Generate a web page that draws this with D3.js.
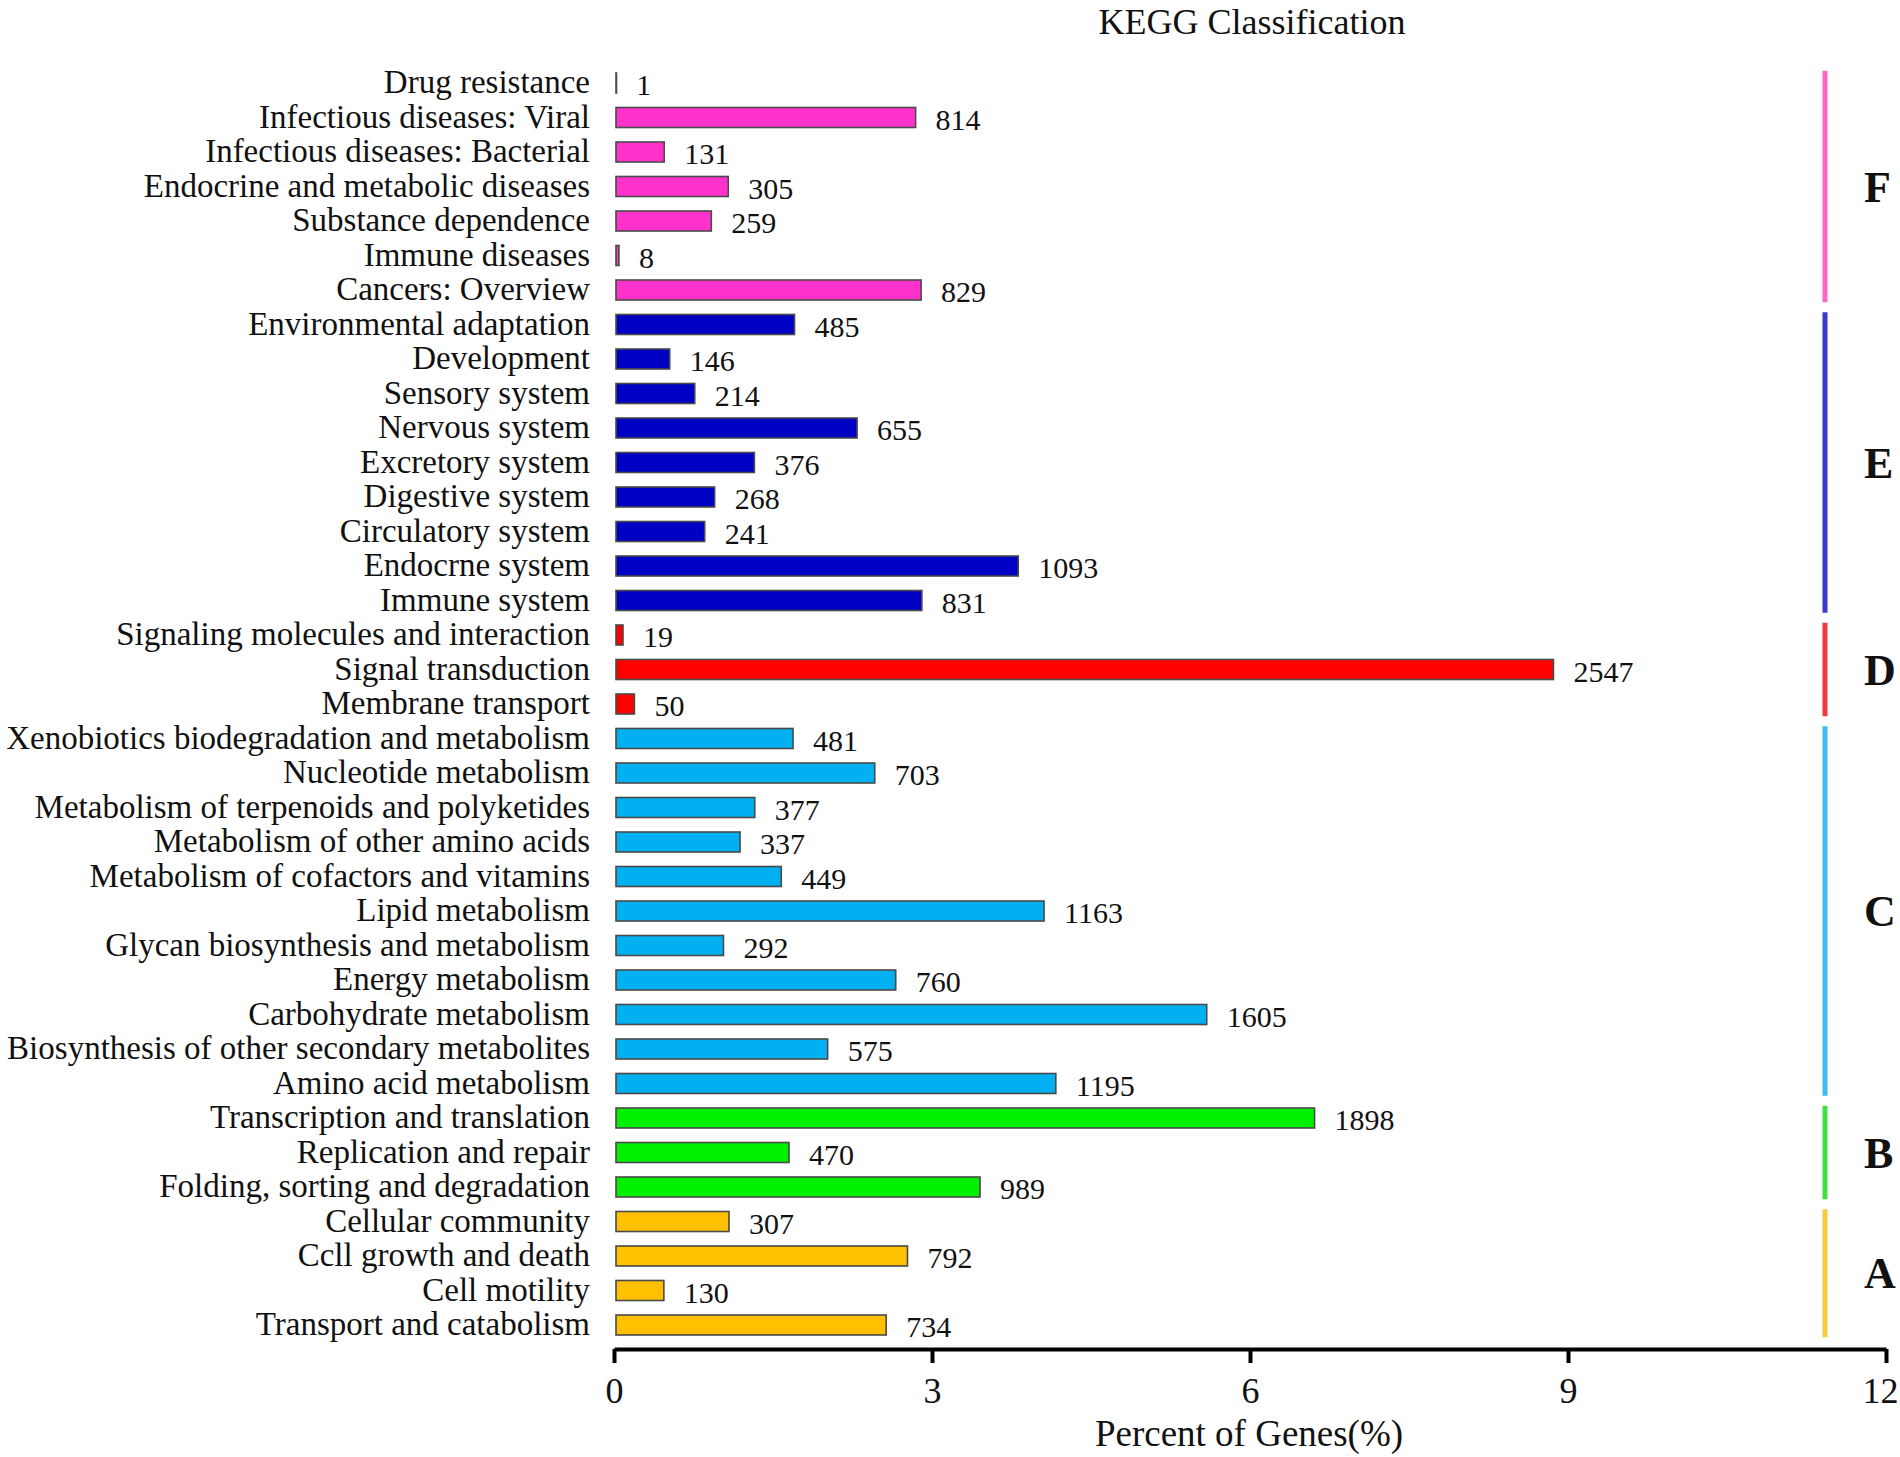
<!DOCTYPE html>
<html>
<head>
<meta charset="utf-8">
<script src="https://cdn.jsdelivr.net/npm/d3@7"></script>
<style>
	body { margin: 0; background: #fff; }
	svg text { font-family: "Liberation Serif", "Times New Roman", serif; fill: #111; }
</style>
</head>
<body>
<div id="main-view"></div>
<script>
// categories, top to bottom
var categories = [
	"Drug resistance", "Infectious diseases: Viral", "Infectious diseases: Bacterial",
	"Endocrine and metabolic diseases", "Substance dependence", "Immune diseases", "Cancers: Overview",
	"Environmental adaptation", "Development", "Sensory system", "Nervous system", "Excretory system",
	"Digestive system", "Circulatory system", "Endocrne system", "Immune system",
	"Signaling molecules and interaction", "Signal transduction", "Membrane transport",
	"Xenobiotics biodegradation and metabolism", "Nucleotide metabolism",
	"Metabolism of terpenoids and polyketides", "Metabolism of other amino acids",
	"Metabolism of cofactors and vitamins", "Lipid metabolism", "Glycan biosynthesis and metabolism",
	"Energy metabolism", "Carbohydrate metabolism", "Biosynthesis of other secondary metabolites",
	"Amino acid metabolism",
	"Transcription and translation", "Replication and repair", "Folding, sorting and degradation",
	"Cellular community", "Ccll growth and death", "Cell motility", "Transport and catabolism"
];
var geneCounts = [
	1, 814, 131, 305, 259, 8, 829,
	485, 146, 214, 655, 376, 268, 241, 1093, 831,
	19, 2547, 50,
	481, 703, 377, 337, 449, 1163, 292, 760, 1605, 575, 1195,
	1898, 470, 989,
	307, 792, 130, 734
];
var categoryGroups = [
	"F", "F", "F", "F", "F", "F", "F",
	"E", "E", "E", "E", "E", "E", "E", "E", "E",
	"D", "D", "D",
	"C", "C", "C", "C", "C", "C", "C", "C", "C", "C", "C",
	"B", "B", "B",
	"A", "A", "A", "A"
];
var totalGenes = 28800;
var groupNames = ["F", "E", "D", "C", "B", "A"];
var groupColors = ["#ff33cc", "#0000c4", "#ff0000", "#00b0f0", "#00f000", "#ffc000"];
var groupLineColors = ["#ff66cc", "#3a3acc", "#ee3a3a", "#3cbcf0", "#40e040", "#f5cc40"];
var xTicks = [0, 3, 6, 9, 12];

var width = 1900, height = 1457;

var rows = categories.map(function(c, i) {
	return { name: c, count: geneCounts[i], group: categoryGroups[i], pct: geneCounts[i] / totalGenes * 100 };
});

var svg = d3.select("#main-view").append("svg")
	.attr("width", width)
	.attr("height", height);

var x = d3.scaleLinear().domain([0, 12]).range([614, 1886]);
var y = d3.scalePoint().domain(categories).range([83, 1325]);
var color = d3.scaleOrdinal().domain(groupNames).range(groupColors);
var lineColor = d3.scaleOrdinal().domain(groupNames).range(groupLineColors);
var barHeight = 20;

// bars
svg.append("g").selectAll("rect")
	.data(rows)
	.enter()
	.append("rect")
	.attr("x", x(0) + 2)
	.attr("y", function(d) { return y(d.name) - barHeight / 2 })
	.attr("width", function(d) { return Math.max(0.5, x(d.pct) - x(0)) })
	.attr("height", barHeight)
	.style("fill", function(d) { return color(d.group) })
	.style("stroke", "#4a4a4a")
	.style("stroke-width", 1.6);

// value labels
svg.append("g").selectAll("text")
	.data(rows)
	.enter()
	.append("text")
	.attr("x", function(d) { return x(d.pct) + 22 })
	.attr("y", function(d) { return y(d.name) + 12 })
	.style("font-size", "30px")
	.text(function(d) { return d.count });

// category labels
svg.append("g").selectAll("text")
	.data(rows)
	.enter()
	.append("text")
	.attr("x", 590)
	.attr("y", function(d) { return y(d.name) + 10 })
	.attr("text-anchor", "end")
	.style("font-size", "33px")
	.text(function(d) { return d.name });

// x axis
var axis = svg.append("g")
	.attr("transform", "translate(0,1349)")
	.call(d3.axisBottom(x).tickValues(xTicks).tickSize(14).tickSizeOuter(0).tickPadding(14));
axis.select(".domain").style("stroke", "#000").style("stroke-width", 4);
axis.selectAll(".tick line").style("stroke", "#000").style("stroke-width", 4);
axis.selectAll(".tick text")
	.style("font-family", "Liberation Serif, serif")
	.style("font-size", "36px")
	.style("fill", "#111")
	.attr("text-anchor", function(d) { return d === 12 ? "end" : "middle" })
	.attr("dx", function(d) { return d === 12 ? 12 : 0 });

svg.append("text")
	.attr("x", 1249)
	.attr("y", 1446)
	.attr("text-anchor", "middle")
	.style("font-size", "37px")
	.text("Percent of Genes(%)");

svg.append("text")
	.attr("x", 1252)
	.attr("y", 34)
	.attr("text-anchor", "middle")
	.style("font-size", "36px")
	.text("KEGG Classification");

// group brackets on the right
var step = y.step();
var groupSpans = groupNames.map(function(g) {
	var members = rows.filter(function(d) { return d.group === g });
	return {
		key: g,
		y0: y(members[0].name) - step / 2 + 5,
		y1: y(members[members.length - 1].name) + step / 2 - 5
	};
});

var brackets = svg.append("g").selectAll("g")
	.data(groupSpans)
	.enter()
	.append("g");

brackets.append("line")
	.attr("x1", 1825).attr("x2", 1825)
	.attr("y1", function(d) { return d.y0 })
	.attr("y2", function(d) { return d.y1 })
	.style("stroke", function(d) { return lineColor(d.key) })
	.style("stroke-width", 5);

brackets.append("text")
	.attr("x", 1864)
	.attr("y", function(d) { return (d.y0 + d.y1) / 2 + 15 })
	.style("font-size", "44px")
	.style("font-weight", "bold")
	.text(function(d) { return d.key });
</script>
</body>
</html>
